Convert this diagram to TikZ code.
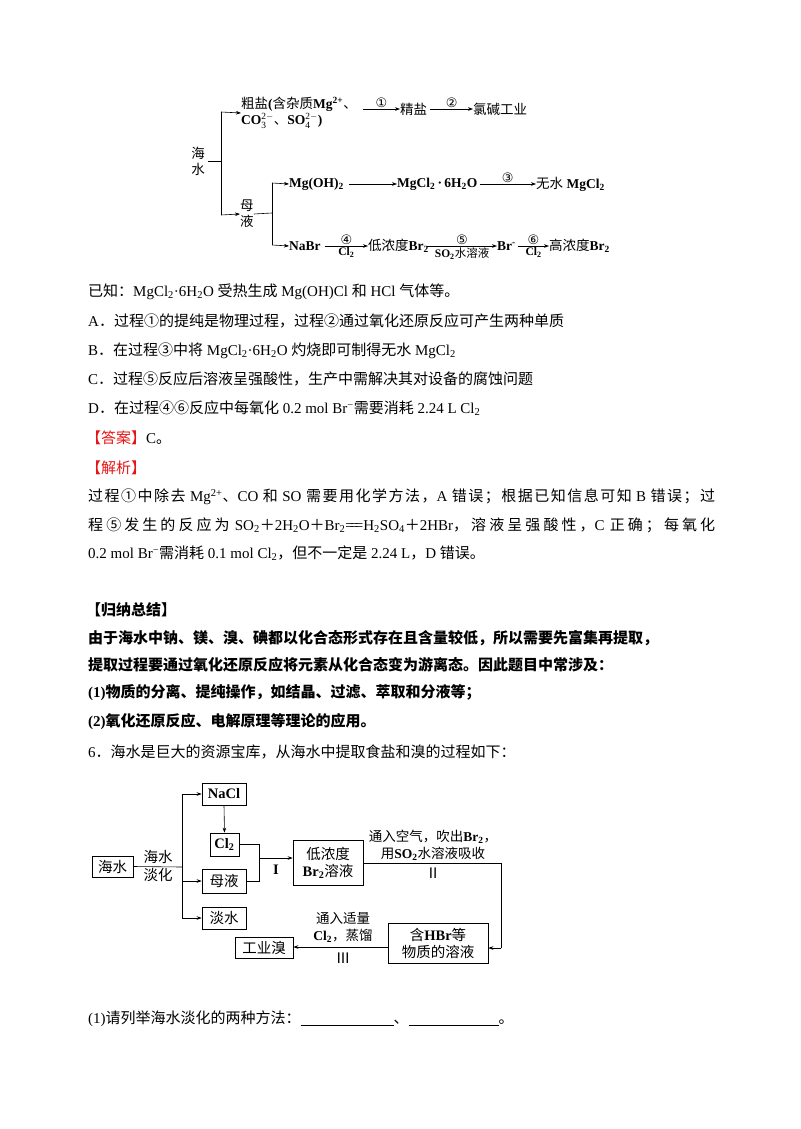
\documentclass[tikz,border=0pt]{standalone}
\usepackage{fontspec}
\usetikzlibrary{arrows.meta}
\setmainfont{Liberation Serif}
\newfontfamily\cjkA{Noto Sans CJK SC}
\newfontfamily\cjkB{Noto Sans CJK SC}[BoldFont={Noto Sans CJK SC}]
\newfontfamily\dvfam{DejaVu Sans}
\let\cjksel\cjkA
\newcommand\tocjk{\cjksel}
\newcount\ci
\newXeTeXintercharclass\CJKcls
\newcommand\setrange[2]{\ci=#1\relax\loop\XeTeXcharclass\ci=\CJKcls\advance\ci by 1\relax\ifnum\ci<#2\repeat}
\setrange{"4E00}{"A000}
\setrange{"3000}{"3040}
\setrange{"FF00}{"FFF0}
\setrange{"2460}{"2474}
\setrange{"2160}{"2170}
\newskip\cjkglue \cjkglue=0pt
\XeTeXinterchartokenstate=1
\XeTeXinterchartoks 0 \CJKcls={\tocjk}
\XeTeXinterchartoks 4095 \CJKcls={\tocjk}
\XeTeXinterchartoks \CJKcls 0={\rmfamily}
\XeTeXinterchartoks \CJKcls 4095={\rmfamily}
\XeTeXinterchartoks \CJKcls \CJKcls={\hskip\cjkglue}
\definecolor{ansred}{RGB}{230,20,20}
\newcommand\tfont{\fontsize{15}{17}\selectfont}
\newcommand\dfont{\fontsize{13.5}{16}\selectfont\bfseries\let\cjksel\cjkB}
\newcommand\cfont{\fontsize{13}{15}\selectfont\mdseries\let\cjksel\dvfam}
\newcommand\sfont{\fontsize{11.5}{13}\selectfont\bfseries\let\cjksel\cjkB}
\newcommand\bfont{\fontsize{14.5}{17}\selectfont\bfseries\let\cjksel\cjkB}
\newcommand\ion[2]{\ensuremath{_{\mathrm{#1}}^{\mathrm{#2}}}}
\newcommand\jline[1]{{\cjkglue=0pt plus 4pt\makebox[627pt][s]{#1}}}
\begin{document}
\begin{tikzpicture}[x=1pt,y=-1pt,
  t/.style={anchor=west,inner sep=0pt,font=\tfont},
  d/.style={inner sep=0pt,font=\dfont},
  lab/.style={inner sep=1.5pt,font=\sfont},
  cn/.style={inner sep=1pt,font=\cfont},
  ar/.style={-{Stealth[length=5pt,width=3.6pt]},line width=0.6pt},
  ln/.style={line width=0.6pt},
  bx/.style={draw,line width=0.7pt,inner sep=0pt,font=\bfont,align=center},
  bl/.style={inner sep=0pt,font=\bfont,align=center}]
\useasboundingbox (0,0) rectangle (800,1129);
\fill[white] (0,0) rectangle (800,1129);
% ---------- top diagram ----------
\node[d,align=center] (hai) at (198,161) {海\\水};
\coordinate (j1) at (221,161);
\coordinate (j1t) at (221,112);
\coordinate (j1b) at (221,215);
\node[d,anchor=west,align=left] (cuyan) at (241,113) {粗盐(含杂质Mg\textsuperscript{2+}、\\CO\ion{3}{2-}、SO\ion{4}{2-})};
\coordinate (a1s) at (363,109);
\node[d,anchor=west] (jingyan) at (400,109) {精盐};
\node[d,anchor=west] (lj) at (473,109) {氯碱工业};
\draw[ln] (hai.east)++(3,0) -- (j1);
\draw[ln] (j1t) -- (j1b);
\draw[ar] (j1t) -- (cuyan.west);
\draw[ar] (a1s) -- node[cn,above]{①} (jingyan.west);
\draw[ar] (jingyan.east)++(3,0) -- node[cn,above]{②} (lj.west);
\node[d,align=center,anchor=west] (muye) at (240,214) {母\\液};
\draw[ar] (j1b) -- (muye.west);
\coordinate (j2) at (272,213);
\coordinate (j2t) at (272,183);
\coordinate (j2b) at (272,245);
\draw[ln] (muye.east) -- (j2);
\draw[ln] (j2t) -- (j2b);
\node[d,anchor=west] (mgoh) at (289,184) {Mg(OH)\textsubscript{2}};
\node[d,anchor=west] (mgcl) at (397,184) {MgCl\textsubscript{2}\,·\,6H\textsubscript{2}O};
\node[d,anchor=west] (wushui) at (536,184) {无水 MgCl\textsubscript{2}};
\draw[ar] (j2t) -- (mgoh.west);
\draw[ar] (mgoh.east)++(5,0) -- (mgcl.west);
\draw[ar] (mgcl.east)++(2,0) -- node[cn,above]{③} (wushui.west);
\node[d,anchor=west] (nabr) at (289,246) {NaBr};
\node[d,anchor=west] (dinong) at (368,246) {低浓度Br\textsubscript{2}};
\node[d,anchor=west] (brm) at (497,246) {Br\textsuperscript{-}};
\node[d,anchor=west] (gaonong) at (549,246) {高浓度Br\textsubscript{2}};
\draw[ar] (j2b) -- (nabr.west);
\draw[ar] (nabr.east)++(4,0) -- node[cn,above]{④} node[lab,below]{Cl\textsubscript{2}} (dinong.west);
\draw[ar] (dinong.east)++(-2,0) -- node[cn,above]{⑤} node[lab,below]{SO\textsubscript{2}水溶液} (brm.west);
\draw[ar] (brm.east)++(2,0) -- node[cn,above]{⑥} node[lab,below]{Cl\textsubscript{2}} (gaonong.west);
% ---------- text ----------
\node[t] (l1) at (88,292) {已知：MgCl\textsubscript{2}·6H\textsubscript{2}O 受热生成 Mg(OH)Cl 和 HCl 气体等。};
\node[t] (l2) at (88,321) {A．过程①的提纯是物理过程，过程②通过氧化还原反应可产生两种单质};
\node[t] (l3) at (88,351) {B．在过程③中将 MgCl\textsubscript{2}·6H\textsubscript{2}O 灼烧即可制得无水 MgCl\textsubscript{2}};
\node[t] (l4) at (88,379) {C．过程⑤反应后溶液呈强酸性，生产中需解决其对设备的腐蚀问题};
\node[t] (l5) at (88,408) {D．在过程④⑥反应中每氧化 0.2 mol Br\textsuperscript{−}需要消耗 2.24 L Cl\textsubscript{2}};
\node[t] (l6) at (86,438) {\textcolor{ansred}{【答案】}C。};
\node[t] (l7) at (86,468) {\textcolor{ansred}{【解析】}};
\node[t] (l8) at (88,497) {\jline{过程①中除去 Mg\textsuperscript{2+}、CO 和 SO 需要用化学方法，A 错误；根据已知信息可知 B 错误；过}};
\node[t] (l9) at (88,525) {\jline{程⑤发生的反应为 SO\textsubscript{2}＋2H\textsubscript{2}O＋Br\textsubscript{2}=\kern-0.25em=\kern-0.25em=H\textsubscript{2}SO\textsubscript{4}＋2HBr，溶液呈强酸性，C 正确；每氧化}};
\node[t] (l10) at (88,553) {0.2 mol Br\textsuperscript{−}需消耗 0.1 mol Cl\textsubscript{2}，但不一定是 2.24 L，D 错误。};
\node[t,font=\tfont\bfseries] (s1) at (86,610) {【归纳总结】};
\node[t,font=\tfont\bfseries] (s2) at (88,638) {由于海水中钠、镁、溴、碘都以化合态形式存在且含量较低，所以需要先富集再提取，};
\node[t,font=\tfont\bfseries] (s3) at (88,665) {提取过程要通过氧化还原反应将元素从化合态变为游离态。因此题目中常涉及：};
\node[t,font=\tfont\bfseries] (s4) at (88,693) {(1)物质的分离、提纯操作，如结晶、过滤、萃取和分液等；};
\node[t,font=\tfont\bfseries] (s5) at (88,722) {(2)氧化还原反应、电解原理等理论的应用。};
\node[t] (q6) at (88,752) {6．海水是巨大的资源宝库，从海水中提取食盐和溴的过程如下：};
% ---------- bottom diagram ----------
\node[bx,minimum width=41pt,minimum height=21pt] (hs) at (112.5,866.5) {海水};
\node[bx,minimum width=44pt,minimum height=22pt] (nacl) at (224,794) {NaCl};
\node[bx,minimum width=29pt,minimum height=23pt] (cl2) at (224.5,844.5) {Cl\textsubscript{2}};
\node[bx,minimum width=44pt,minimum height=24pt] (my) at (224,881) {母液};
\node[bx,minimum width=44pt,minimum height=22pt] (ds) at (224,918) {淡水};
\node[bx,minimum width=70pt,minimum height=45pt] (dn) at (328,862.5) {低浓度\\Br\textsubscript{2}溶液};
\node[bx,minimum width=100pt,minimum height=40pt] (hbr) at (438,943) {含HBr等\\物质的溶液};
\node[bx,minimum width=58pt,minimum height=21pt] (gy) at (264,947.5) {工业溴};
\coordinate (jb) at (182,867);
\coordinate (jbt) at (182,794);
\coordinate (jbb) at (182,918);
\draw[ln] (hs.east) -- (jb);
\draw[ln] (jbt) -- (jbb);
\node[bl] (dhl) at (158,866) {海水\\[1pt]淡化};
\draw[ar] (jbt) -- (nacl.west);
\draw[ar] (jb|-my) -- (my.west);
\draw[ar] (jbb) -- (ds.west);
\draw[ar] (nacl.south) -- (cl2.north);
\coordinate (m) at (259,858);
\draw[ln] (cl2.east) -- (cl2.east-|m) -- (m);
\draw[ln] (my.east) -- (my.east-|m) -- (m);
\draw[ar] (m) -- (dn.west|-m);
\node[bl] (r1) at (276,870) {I};
\coordinate (c1) at (501,863);
\coordinate (c2) at (501,948);
\draw[ln] (dn.east|-c1) -- (c1) -- (c2);
\draw[ar] (c2) -- (hbr.east|-c2);
\node[bl,font=\fontsize{13.5}{17}\selectfont\bfseries\let\cjksel\cjkB] (r2t) at (433,845) {通入空气，吹出Br\textsubscript{2}，\\用SO\textsubscript{2}水溶液吸收};
\node[bl] (r2) at (433,873) {Ⅱ};
\coordinate (c3) at (388,947);
\draw[ar] (c3) -- (gy.east|-c3);
\node[bl,font=\fontsize{13.5}{17}\selectfont\bfseries\let\cjksel\cjkB] (r3t) at (343,927) {通入适量\\Cl\textsubscript{2}，蒸馏};
\node[bl] (r3) at (343,958) {Ⅲ};
\node[t] (q1) at (88,1019) {(1)请列举海水淡化的两种方法：\underline{\hspace{93pt}}、\underline{\hspace{90pt}}。};
\end{tikzpicture}
\end{document}
